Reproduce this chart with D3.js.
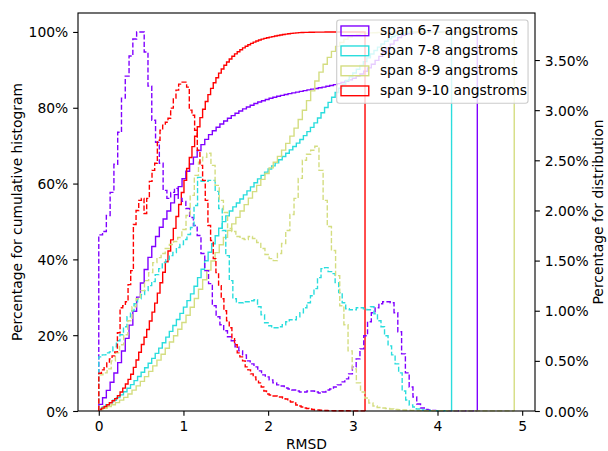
<!DOCTYPE html>
<html>
<head>
<meta charset="utf-8">
<script src="https://cdn.jsdelivr.net/npm/d3@7/dist/d3.min.js"></script>
<style>
  html, body { margin: 0; padding: 0; background: #fff; }
  svg { display: block; font-family: "DejaVu Sans", sans-serif; }
</style>
</head>
<body>
<svg id="chart" width="608" height="451"></svg>
<script>
// Series labels and colours (rainbow colormap, 4 steps)
const spans = ['span 6-7 angstroms', 'span 7-8 angstroms', 'span 8-9 angstroms', 'span 9-10 angstroms'];
const colors = ['#8000ff', '#2adddd', '#d4dd80', '#ff0000'];
// Largest RMSD of each span (last bin edge, 100 bins from 0)
const rmsdMax = [4.47, 4.166, 4.906, 3.144];

// Per-bin share of samples, in percent
const dist67 = [1.756, 1.79, 1.95, 2.18, 2.46, 2.78, 3.12, 3.34, 3.54, 3.71,
  3.78, 3.78, 3.58, 3.24, 2.90, 2.68, 2.47, 2.20, 2.12, 2.18,
  2.22, 2.12, 2.09, 2.02, 1.93, 1.85, 1.75, 1.57, 1.40, 1.27,
  1.05, 0.94, 0.86, 0.80, 0.74, 0.70, 0.64, 0.60, 0.56, 0.50,
  0.47, 0.44, 0.40, 0.36, 0.34, 0.31, 0.28, 0.26, 0.25, 0.23,
  0.22, 0.21, 0.20, 0.19, 0.19, 0.20, 0.20, 0.19, 0.18, 0.19,
  0.21, 0.22, 0.24, 0.26, 0.29, 0.32, 0.37, 0.44, 0.52, 0.62,
  0.75, 0.89, 0.98, 1.03, 1.07, 1.09, 1.09, 1.08, 0.98, 0.79,
  0.57, 0.38, 0.24, 0.14, 0.07, 0.03, 0.015, 0.01, 0.005, 0.004,
  0.003, 0.002, 0.002, 0.001, 0.001, 0.001, 0.001, 0.001, 0.001, 0.001];
const dist78 = [0.54, 0.56, 0.58, 0.59, 0.64, 0.70, 0.76, 0.84, 0.94, 1.00,
  1.07, 1.12, 1.16, 1.20, 1.25, 1.29, 1.36, 1.42, 1.48, 1.51,
  1.55, 1.58, 1.63, 1.66, 1.71, 1.76, 1.83, 2.05, 2.33, 2.29,
  2.29, 2.30, 2.30, 2.19, 2.02, 1.80, 1.55, 1.30, 1.12, 1.08,
  1.08, 1.09, 1.09, 1.10, 1.11, 1.04, 0.96, 0.88, 0.85, 0.83,
  0.83, 0.84, 0.86, 0.89, 0.91, 0.91, 0.94, 0.98, 1.03, 1.08,
  1.15, 1.22, 1.33, 1.42, 1.43, 1.39, 1.37, 1.28, 1.18, 1.08,
  1.02, 1.01, 1.01, 1.03, 1.03, 1.02, 1.01, 1.04, 0.97, 0.90,
  0.84, 0.75, 0.65, 0.56, 0.47, 0.38, 0.20, 0.11, 0.06, 0.04,
  0.02, 0.01, 0.008, 0.005, 0.004, 0.003, 0.002, 0.002, 0.001, 0.001];
const dist89 = [0.36, 0.38, 0.42, 0.50, 0.58, 0.66, 0.76, 0.90, 1.04, 1.12,
  1.20, 1.30, 1.38, 1.48, 1.53, 1.57, 1.62, 1.66, 1.69, 1.73,
  1.81, 1.95, 2.15, 2.35, 2.48, 2.53, 2.57, 2.45, 2.25, 2.10,
  1.98, 1.82, 1.79, 1.74, 1.72, 1.71, 1.74, 1.72, 1.68, 1.62,
  1.56, 1.52, 1.50, 1.57, 1.67, 1.80, 1.96, 2.12, 2.32, 2.50,
  2.56, 2.60, 2.64, 2.40, 2.10, 1.84, 1.60, 1.35, 1.05, 0.86,
  0.60, 0.42, 0.28, 0.19, 0.13, 0.08, 0.05, 0.035, 0.03, 0.025,
  0.02, 0.015, 0.012, 0.01, 0.008, 0.006, 0.005, 0.004, 0.003, 0.003,
  0.002, 0.002, 0.002, 0.002, 0.001, 0.001, 0.001, 0.001, 0.001, 0.001,
  0.001, 0.001, 0.001, 0.001, 0.001, 0.001, 0.001, 0.001, 0.001, 0.001];
const dist910 = [0.376, 0.41, 0.44, 0.48, 0.52, 0.55, 0.59, 0.78, 1.03, 1.05,
  1.09, 1.26, 1.40, 1.86, 2.00, 2.10, 2.12, 1.97, 2.12, 2.29,
  2.40, 2.47, 2.70, 2.80, 2.85, 2.88, 2.92, 3.02, 3.12, 3.20,
  3.26, 3.28, 3.28, 3.23, 3.00, 2.95, 2.80, 2.60, 2.45, 2.30,
  2.10, 1.85, 1.70, 1.52, 1.38, 1.25, 1.12, 1.00, 0.90, 0.83,
  0.72, 0.66, 0.58, 0.54, 0.50, 0.44, 0.41, 0.37, 0.34, 0.31,
  0.28, 0.24, 0.20, 0.17, 0.16, 0.15, 0.15, 0.14, 0.14, 0.13,
  0.12, 0.10, 0.09, 0.08, 0.06, 0.05, 0.04, 0.03, 0.025, 0.02,
  0.015, 0.01, 0.01, 0.008, 0.006, 0.005, 0.004, 0.004, 0.003, 0.003,
  0.002, 0.002, 0.002, 0.002, 0.001, 0.001, 0.001, 0.001, 0.001, 0.001];
const dists = [dist67, dist78, dist89, dist910];

// Tick values
const xTicks = [0, 1, 2, 3, 4, 5];
const leftTicks = [0, 0.2, 0.4, 0.6, 0.8, 1.0];
const rightTicks = [0, 0.005, 0.01, 0.015, 0.02, 0.025, 0.03, 0.035];

// Layout (matplotlib-like, 100 dpi)
const pt = 100 / 72;
const fontSize = 10 * pt;
const margin = { left: 78, top: 13, right: 73, bottom: 40 };
const W = 608, H = 451;
const plotW = W - margin.left - margin.right;
const plotH = H - margin.top - margin.bottom;

const svg = d3.select('#chart');
const g = svg.append('g').attr('transform', `translate(${margin.left},${margin.top})`);

// Histogram series: bin edges, per-bin fraction, cumulative fraction
const series = dists.map((d, k) => {
    const n = d.length;
    const edges = d3.range(n + 1).map(i => rmsdMax[k] * i / n);
    const total = d3.sum(d);
    const frac = d.map(v => v / 100);
    const cum = Array.from(d3.cumsum(d), v => v / total);
    return { label: spans[k], color: colors[k], edges, frac, cum };
});

// Scales (5% margins like matplotlib autoscale)
const xMax = d3.max(rmsdMax);
const xPad = xMax * 0.05;
const x = d3.scaleLinear().domain([-xPad, xMax + xPad]).range([0, plotW]);
const yLeft = d3.scaleLinear().domain([0, 1.05]).range([plotH, 0]);
const distMax = d3.max(series, s => d3.max(s.frac));
const yRight = d3.scaleLinear().domain([0, distMax * 1.05]).range([plotH, 0]);

// Step outline like histtype='step'
function stepPoints(edges, vals) {
    const pts = [[edges[0], 0]];
    vals.forEach((v, i) => pts.push([edges[i], v]));
    pts.push([edges[edges.length - 1], 0]);
    return pts;
}

function drawSteps(yScale, key, dashed) {
    const line = d3.line()
        .x(p => x(p[0]))
        .y(p => yScale(p[1]))
        .curve(d3.curveStepAfter);
    g.append('g')
        .selectAll('path')
        .data(series)
        .enter()
        .append('path')
        .attr('d', s => line(stepPoints(s.edges, s[key])))
        .attr('fill', 'none')
        .attr('stroke', s => s.color)
        .attr('stroke-width', 1 * pt)
        .attr('stroke-linejoin', 'miter')
        .attr('stroke-dasharray', dashed ? `${3.7 * pt},${1.6 * pt}` : null);
}

// Left axes first (cumulative), then the twin axes (distribution) on top
drawSteps(yLeft, 'cum', false);
drawSteps(yRight, 'frac', true);

// Axes
const tickLen = 3.5 * pt;
function styleAxis(sel) {
    sel.select('.domain').remove();
    sel.selectAll('line').attr('stroke', '#000').attr('stroke-width', 0.8 * pt);
    sel.selectAll('text')
        .attr('fill', '#000')
        .style('font-size', fontSize + 'px')
        .style('font-family', '"DejaVu Sans", sans-serif');
}

g.append('g')
    .attr('transform', `translate(0,${plotH})`)
    .call(d3.axisBottom(x).tickValues(xTicks).tickFormat(d3.format('d'))
        .tickSize(tickLen).tickPadding(tickLen))
    .call(styleAxis);

g.append('g')
    .call(d3.axisLeft(yLeft).tickValues(leftTicks).tickFormat(d3.format('.0%'))
        .tickSize(tickLen).tickPadding(tickLen))
    .call(styleAxis)
    .selectAll('text').attr('dy', '0.36em');

g.append('g')
    .attr('transform', `translate(${plotW},0)`)
    .call(d3.axisRight(yRight).tickValues(rightTicks).tickFormat(d3.format('.2%'))
        .tickSize(tickLen).tickPadding(tickLen))
    .call(styleAxis)
    .selectAll('text').attr('dy', '0.36em');

// Spines
g.append('rect')
    .attr('x', 0).attr('y', 0)
    .attr('width', plotW).attr('height', plotH)
    .attr('fill', 'none')
    .attr('stroke', '#000')
    .attr('stroke-width', 0.8 * pt);

// Axis labels
svg.append('text')
    .attr('x', margin.left + plotW / 2)
    .attr('y', 449.3)
    .attr('text-anchor', 'middle')
    .style('font-size', fontSize + 'px')
    .text('RMSD');

svg.append('text')
    .attr('transform', `translate(22.4,${margin.top + plotH / 2}) rotate(-90)`)
    .attr('text-anchor', 'middle')
    .style('font-size', fontSize + 'px')
    .text('Percentage for cumulative histogram');

svg.append('text')
    .attr('transform', `translate(603.4,${margin.top + plotH / 2}) rotate(-90)`)
    .attr('text-anchor', 'middle')
    .style('font-size', fontSize + 'px')
    .text('Percentage for distribution');

// Legend (upper right)
const legend = svg.append('g');
const lgRight = margin.left + plotW - 0.5 * fontSize;
const lgTop = margin.top + 0.5 * fontSize;
const lgLeft = 336.7;
legend.append('rect')
    .attr('x', lgLeft).attr('y', lgTop)
    .attr('width', lgRight - lgLeft).attr('height', 83.3)
    .attr('rx', 0.2 * fontSize)
    .attr('fill', '#fff').attr('fill-opacity', 0.8)
    .attr('stroke', '#cccccc').attr('stroke-width', 1 * pt * 0.8);

const rowH = 20;
const item = legend.selectAll('g.item')
    .data(series)
    .enter()
    .append('g')
    .attr('class', 'item')
    .attr('transform', (d, i) => `translate(${lgLeft + 4.3},${lgTop + 10.9 + i * rowH})`);
item.append('rect')
    .attr('x', 0).attr('y', -0.35 * fontSize)
    .attr('width', 2 * fontSize).attr('height', 0.7 * fontSize)
    .attr('fill', 'none')
    .attr('stroke', d => d.color)
    .attr('stroke-width', 1 * pt);
item.append('text')
    .attr('x', 2 * fontSize + 0.8 * fontSize)
    .attr('y', 4.6)
    .style('font-size', fontSize + 'px')
    .text(d => d.label);
</script>
</body>
</html>
